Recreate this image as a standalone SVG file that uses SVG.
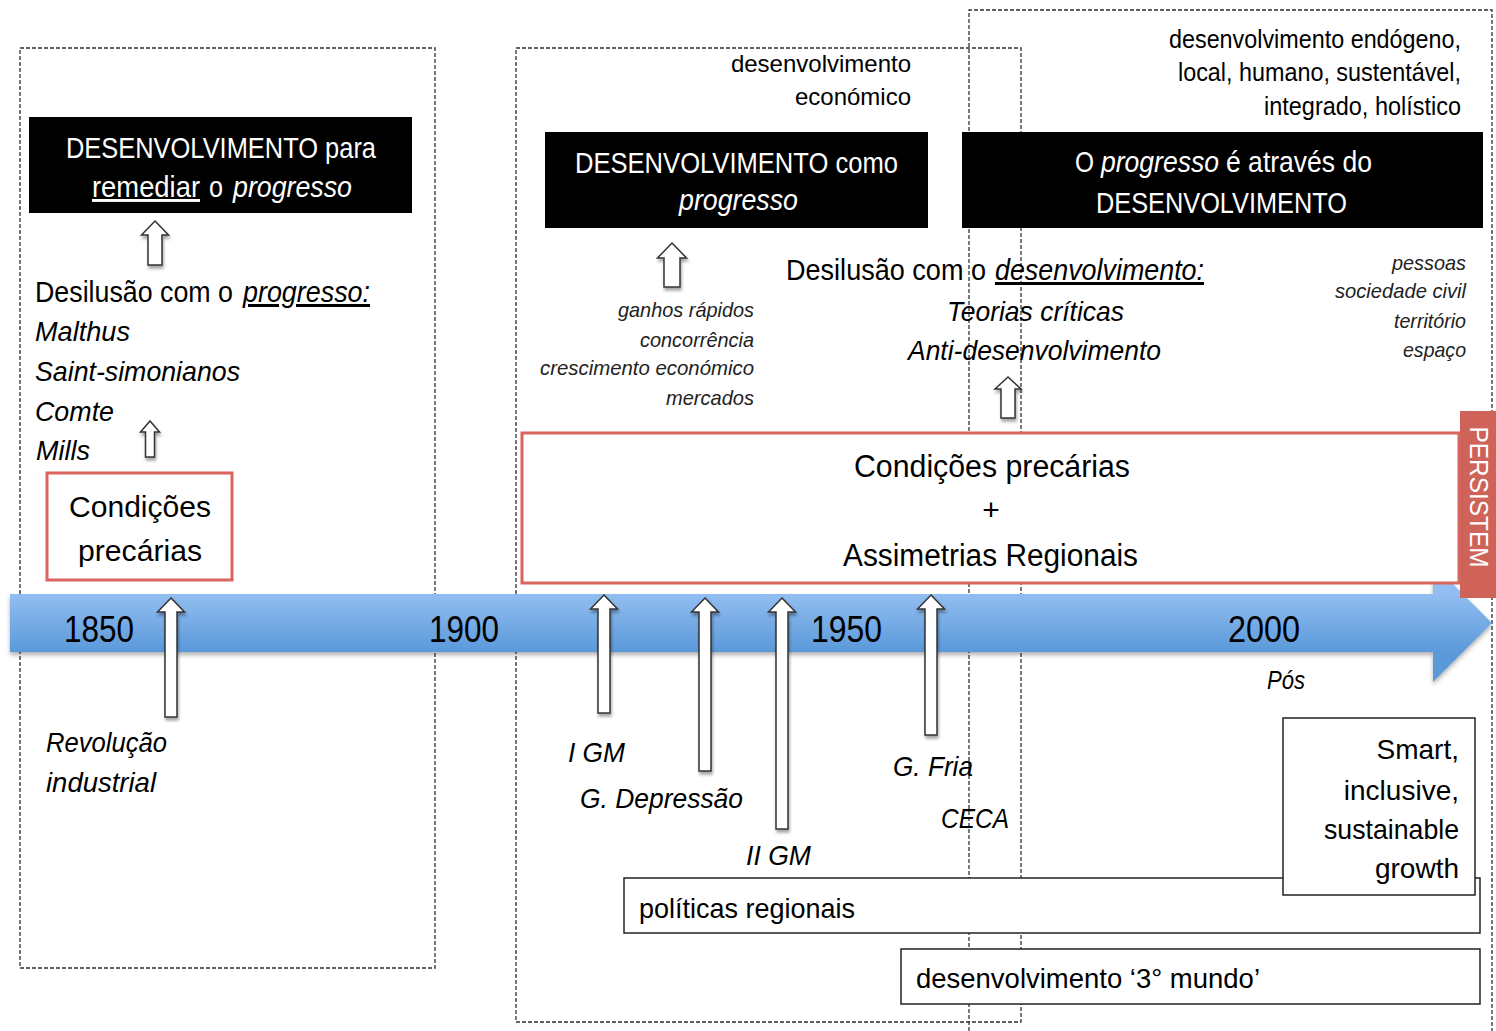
<svg xmlns="http://www.w3.org/2000/svg" width="1496" height="1031" viewBox="0 0 1496 1031">
<style>
text{font-family:"Liberation Sans",Arial,sans-serif;fill:#000}
.w{fill:#fff}
.i{font-style:italic}
.u{text-decoration:underline}
.dash{fill:none;stroke:#333;stroke-width:1.3;stroke-dasharray:4 2}
.blk{fill:#000}
.red{fill:#fff;stroke:#d9655e;stroke-width:3}
.box{fill:#fff;stroke:#222;stroke-width:1.5}
.arr{fill:#fff;stroke:#333;stroke-width:1.5;filter:url(#sh)}
.sm{font-size:21px;font-style:italic;fill:#222}
</style>
<defs>
<filter id="sh" x="-50%" y="-20%" width="200%" height="140%"><feDropShadow dx="1" dy="3" stdDeviation="1.5" flood-color="#000" flood-opacity="0.35"/></filter>
<filter id="bsh" x="-5%" y="-20%" width="110%" height="160%"><feDropShadow dx="0" dy="3" stdDeviation="2" flood-color="#000" flood-opacity="0.3"/></filter>
<linearGradient id="bg" gradientUnits="userSpaceOnUse" x1="0" y1="594" x2="0" y2="652"><stop offset="0" stop-color="#92bef1"/><stop offset="1" stop-color="#5b99da"/></linearGradient>
</defs>

<g id="frames">
<rect class="dash" x="20" y="48" width="415" height="920"/>
<rect class="dash" x="516" y="48" width="505" height="974"/>
<path class="dash" d="M969,1031 L969,10 L1492,10 L1492,1031"/>
</g>

<g id="timeline">
<path d="M10,594 L1433,594 L1433,564 L1492,623 L1433,682 L1433,652 L10,652 Z" fill="url(#bg)" filter="url(#bsh)"/>
<text x="64" y="642" font-size="36" textLength="70" lengthAdjust="spacingAndGlyphs">1850</text>
<text x="429" y="642" font-size="36" textLength="70" lengthAdjust="spacingAndGlyphs">1900</text>
<text x="811" y="642" font-size="36" textLength="71" lengthAdjust="spacingAndGlyphs">1950</text>
<text x="1228" y="642" font-size="36" textLength="72" lengthAdjust="spacingAndGlyphs">2000</text>
<text class="i" x="1267" y="689" font-size="26" textLength="38" lengthAdjust="spacingAndGlyphs">Pós</text>
</g>

<g id="box-remediar">
<rect class="blk" x="29" y="117" width="383" height="96"/>
<text class="w" x="66" y="158" font-size="29" textLength="310" lengthAdjust="spacingAndGlyphs">DESENVOLVIMENTO para</text>
<text class="w u" x="92" y="197" font-size="29" textLength="108" lengthAdjust="spacingAndGlyphs">remediar</text>
<text class="w" x="209" y="197" font-size="29" textLength="14" lengthAdjust="spacingAndGlyphs">o</text>
<text class="w i" x="233" y="197" font-size="29" textLength="119" lengthAdjust="spacingAndGlyphs">progresso</text>
</g>

<g id="desilusao-progresso">
<text x="35" y="302" font-size="30" textLength="198" lengthAdjust="spacingAndGlyphs">Desilusão com o</text>
<text class="i u" x="243" y="302" font-size="30" textLength="127" lengthAdjust="spacingAndGlyphs">progresso:</text>
<text class="i" x="35" y="341" font-size="28" textLength="95" lengthAdjust="spacingAndGlyphs">Malthus</text>
<text class="i" x="35" y="381" font-size="28" textLength="205" lengthAdjust="spacingAndGlyphs">Saint-simonianos</text>
<text class="i" x="35" y="421" font-size="28" textLength="79" lengthAdjust="spacingAndGlyphs">Comte</text>
<text class="i" x="36" y="460" font-size="28" textLength="54" lengthAdjust="spacingAndGlyphs">Mills</text>
</g>

<g id="condicoes-1850">
<rect class="red" x="47" y="473" width="185" height="107"/>
<text x="69" y="517" font-size="30" textLength="142" lengthAdjust="spacingAndGlyphs">Condições</text>
<text x="78" y="561" font-size="30" textLength="124" lengthAdjust="spacingAndGlyphs">precárias</text>
</g>

<g id="box-como-progresso">
<text x="911" y="72" font-size="24" text-anchor="end">desenvolvimento</text>
<text x="911" y="105" font-size="24" text-anchor="end">económico</text>
<rect class="blk" x="545" y="132" width="383" height="96"/>
<text class="w" x="575" y="173" font-size="29" textLength="323" lengthAdjust="spacingAndGlyphs">DESENVOLVIMENTO como</text>
<text class="w i" x="679" y="210" font-size="29" textLength="119" lengthAdjust="spacingAndGlyphs">progresso</text>
</g>

<g id="motivos-crescimento">
<text class="sm" x="618" y="317" textLength="136" lengthAdjust="spacingAndGlyphs">ganhos rápidos</text>
<text class="sm" x="640" y="347" textLength="114" lengthAdjust="spacingAndGlyphs">concorrência</text>
<text class="sm" x="540" y="375" textLength="214" lengthAdjust="spacingAndGlyphs">crescimento económico</text>
<text class="sm" x="666" y="405" textLength="88" lengthAdjust="spacingAndGlyphs">mercados</text>
</g>

<g id="desilusao-desenvolvimento">
<text x="786" y="280" font-size="30" textLength="200" lengthAdjust="spacingAndGlyphs">Desilusão com o</text>
<text class="i u" x="995" y="280" font-size="30" textLength="209" lengthAdjust="spacingAndGlyphs">desenvolvimento:</text>
<text class="i" x="947" y="321" font-size="28" textLength="177" lengthAdjust="spacingAndGlyphs">Teorias críticas</text>
<text class="i" x="908" y="360" font-size="28" textLength="253" lengthAdjust="spacingAndGlyphs">Anti-desenvolvimento</text>
</g>

<g id="box-atraves">
<text x="1169" y="48" font-size="25" textLength="292" lengthAdjust="spacingAndGlyphs">desenvolvimento endógeno,</text>
<text x="1178" y="81" font-size="25" textLength="283" lengthAdjust="spacingAndGlyphs">local, humano, sustentável,</text>
<text x="1264" y="115" font-size="25" textLength="197" lengthAdjust="spacingAndGlyphs">integrado, holístico</text>
<rect class="blk" x="962" y="132" width="521" height="96"/>
<text class="w" x="1075" y="172" font-size="29" textLength="19" lengthAdjust="spacingAndGlyphs">O</text>
<text class="w i" x="1101" y="172" font-size="29" textLength="118" lengthAdjust="spacingAndGlyphs">progresso</text>
<text class="w" x="1226" y="172" font-size="29" textLength="146" lengthAdjust="spacingAndGlyphs">é através do</text>
<text class="w" x="1096" y="213" font-size="29" textLength="251" lengthAdjust="spacingAndGlyphs">DESENVOLVIMENTO</text>
</g>

<g id="atores">
<text class="sm" x="1392" y="270" textLength="74" lengthAdjust="spacingAndGlyphs">pessoas</text>
<text class="sm" x="1335" y="298" textLength="131" lengthAdjust="spacingAndGlyphs">sociedade civil</text>
<text class="sm" x="1394" y="328" textLength="72" lengthAdjust="spacingAndGlyphs">território</text>
<text class="sm" x="1403" y="357" textLength="63" lengthAdjust="spacingAndGlyphs">espaço</text>
</g>

<g id="condicoes-assimetrias">
<rect class="red" x="522" y="433" width="937" height="150"/>
<text x="854" y="477" font-size="31" textLength="276" lengthAdjust="spacingAndGlyphs">Condições precárias</text>
<text x="991" y="520" font-size="30" text-anchor="middle">+</text>
<text x="843" y="566" font-size="31" textLength="295" lengthAdjust="spacingAndGlyphs">Assimetrias Regionais</text>
</g>

<g id="persistem">
<rect x="1460" y="411" width="36" height="187" fill="#cf635a"/>
<text class="w" transform="translate(1470,497) rotate(90)" font-size="26" text-anchor="middle" textLength="141" lengthAdjust="spacingAndGlyphs">PERSISTEM</text>
</g>

<g id="eventos">
<text class="i" x="46" y="752" font-size="28" textLength="121" lengthAdjust="spacingAndGlyphs">Revolução</text>
<text class="i" x="46" y="792" font-size="28" textLength="110" lengthAdjust="spacingAndGlyphs">industrial</text>
<text class="i" x="568" y="762" font-size="28" textLength="57" lengthAdjust="spacingAndGlyphs">I GM</text>
<text class="i" x="580" y="808" font-size="28" textLength="163" lengthAdjust="spacingAndGlyphs">G. Depressão</text>
<text class="i" x="746" y="865" font-size="28" textLength="65" lengthAdjust="spacingAndGlyphs">II GM</text>
<text class="i" x="893" y="776" font-size="28" textLength="80" lengthAdjust="spacingAndGlyphs">G. Fria</text>
<text class="i" x="941" y="828" font-size="28" textLength="68" lengthAdjust="spacingAndGlyphs">CECA</text>
</g>

<g id="politicas">
<rect class="box" x="624" y="878" width="856" height="55"/>
<text x="639" y="918" font-size="28" textLength="216" lengthAdjust="spacingAndGlyphs">políticas regionais</text>
</g>

<g id="terceiro-mundo">
<rect class="box" x="901" y="949" width="579" height="55"/>
<text x="916" y="988" font-size="28" textLength="344" lengthAdjust="spacingAndGlyphs">desenvolvimento ‘3° mundo’</text>
</g>

<g id="smart">
<rect class="box" x="1283" y="718" width="192" height="177"/>
<text x="1459" y="759" font-size="28" text-anchor="end">Smart,</text>
<text x="1459" y="800" font-size="28" text-anchor="end">inclusive,</text>
<text x="1459" y="839" font-size="28" text-anchor="end" textLength="135" lengthAdjust="spacingAndGlyphs">sustainable</text>
<text x="1459" y="878" font-size="28" text-anchor="end">growth</text>
</g>

<g id="connectors">
<path class="arr" d="M155,221 L168.5,235 L162,235 L162,265 L148,265 L148,235 L141.5,235 Z"/>
<path class="arr" d="M150,421 L159.5,432 L154.5,432 L154.5,457 L145.5,457 L145.5,432 L140.5,432 Z"/>
<path class="arr" d="M672,243 L686.5,258 L680,258 L680,287 L664,287 L664,258 L657.5,258 Z"/>
<path class="arr" d="M1008,377 L1021,389 L1015,389 L1015,418 L1001,418 L1001,389 L995,389 Z"/>
<path class="arr" d="M171,598 L184.5,612 L177,612 L177,717 L165,717 L165,612 L157.5,612 Z"/>
<path class="arr" d="M604,595 L617.5,609 L610,609 L610,713 L598,713 L598,609 L590.5,609 Z"/>
<path class="arr" d="M705,598 L718.5,612 L711,612 L711,771 L699,771 L699,612 L691.5,612 Z"/>
<path class="arr" d="M782,598 L795.5,612 L788,612 L788,829 L776,829 L776,612 L768.5,612 Z"/>
<path class="arr" d="M931,595 L944.5,609 L937,609 L937,735 L925,735 L925,609 L917.5,609 Z"/>
</g>
</svg>
